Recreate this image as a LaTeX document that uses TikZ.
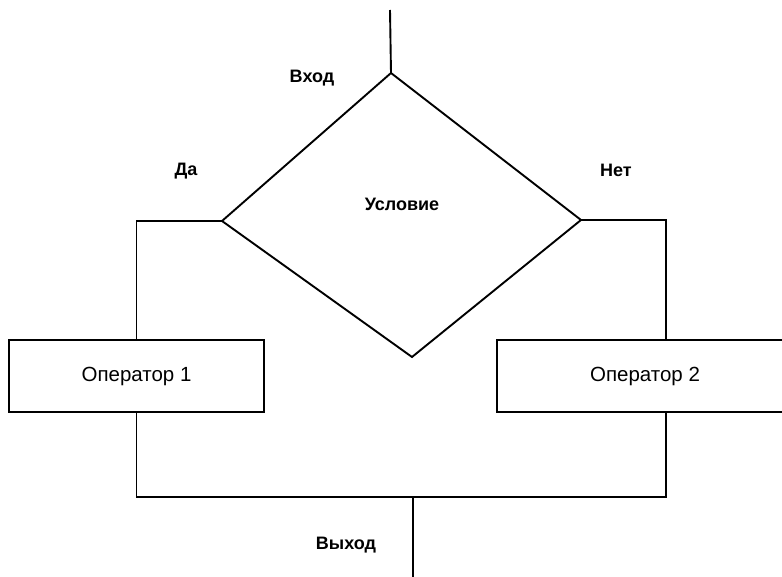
\documentclass[tikz,border=0pt]{standalone}
\usepackage{fontspec}
\setmainfont{Liberation Sans}
\usetikzlibrary{shapes,arrows}

\begin{document}
\begin{tikzpicture}[x=1pt,y=-1pt,line width=1.9pt,
  opbox/.style={draw,rectangle,minimum height=72pt,inner sep=0pt,font=\fontsize{20.5}{24}\selectfont},
  lbl/.style={font=\bfseries\fontsize{18}{21}\selectfont}]
\clip (0,0) rectangle (782,577);

% condition
\coordinate (in) at (390,10);
\coordinate (top) at (391,73);
\coordinate (right) at (581,220);
\coordinate (bot) at (412,357);
\coordinate (left) at (222,221);
\draw (top) -- (right) -- (bot) -- (left) -- cycle;
\node[lbl] (cond) at (402,204) {Условие};

\node[opbox,minimum width=255pt] (op1) at (136.5,376) {Оператор 1};
\node[opbox,minimum width=296pt] (op2) at (645,376) {Оператор 2};

\coordinate (r) at (666,220);
\coordinate (join) at (413,497);
\coordinate (out) at (413,577);

\draw (in) -- (top);
\draw (left) -| (op1.north);
\draw (right) -- (r) -- (r |- op2.north);
\draw (op1.south) |- (join) -| (r |- op2.south);
\draw (join) -- (out);

\node[lbl] (vhod) at (312,78) {Вход};
\node[lbl] (da) at (186,171) {Да};
\node[lbl] (net) at (616,170) {Нет};
\node[lbl] (vyhod) at (346,545) {Выход};
\end{tikzpicture}
\end{document}
